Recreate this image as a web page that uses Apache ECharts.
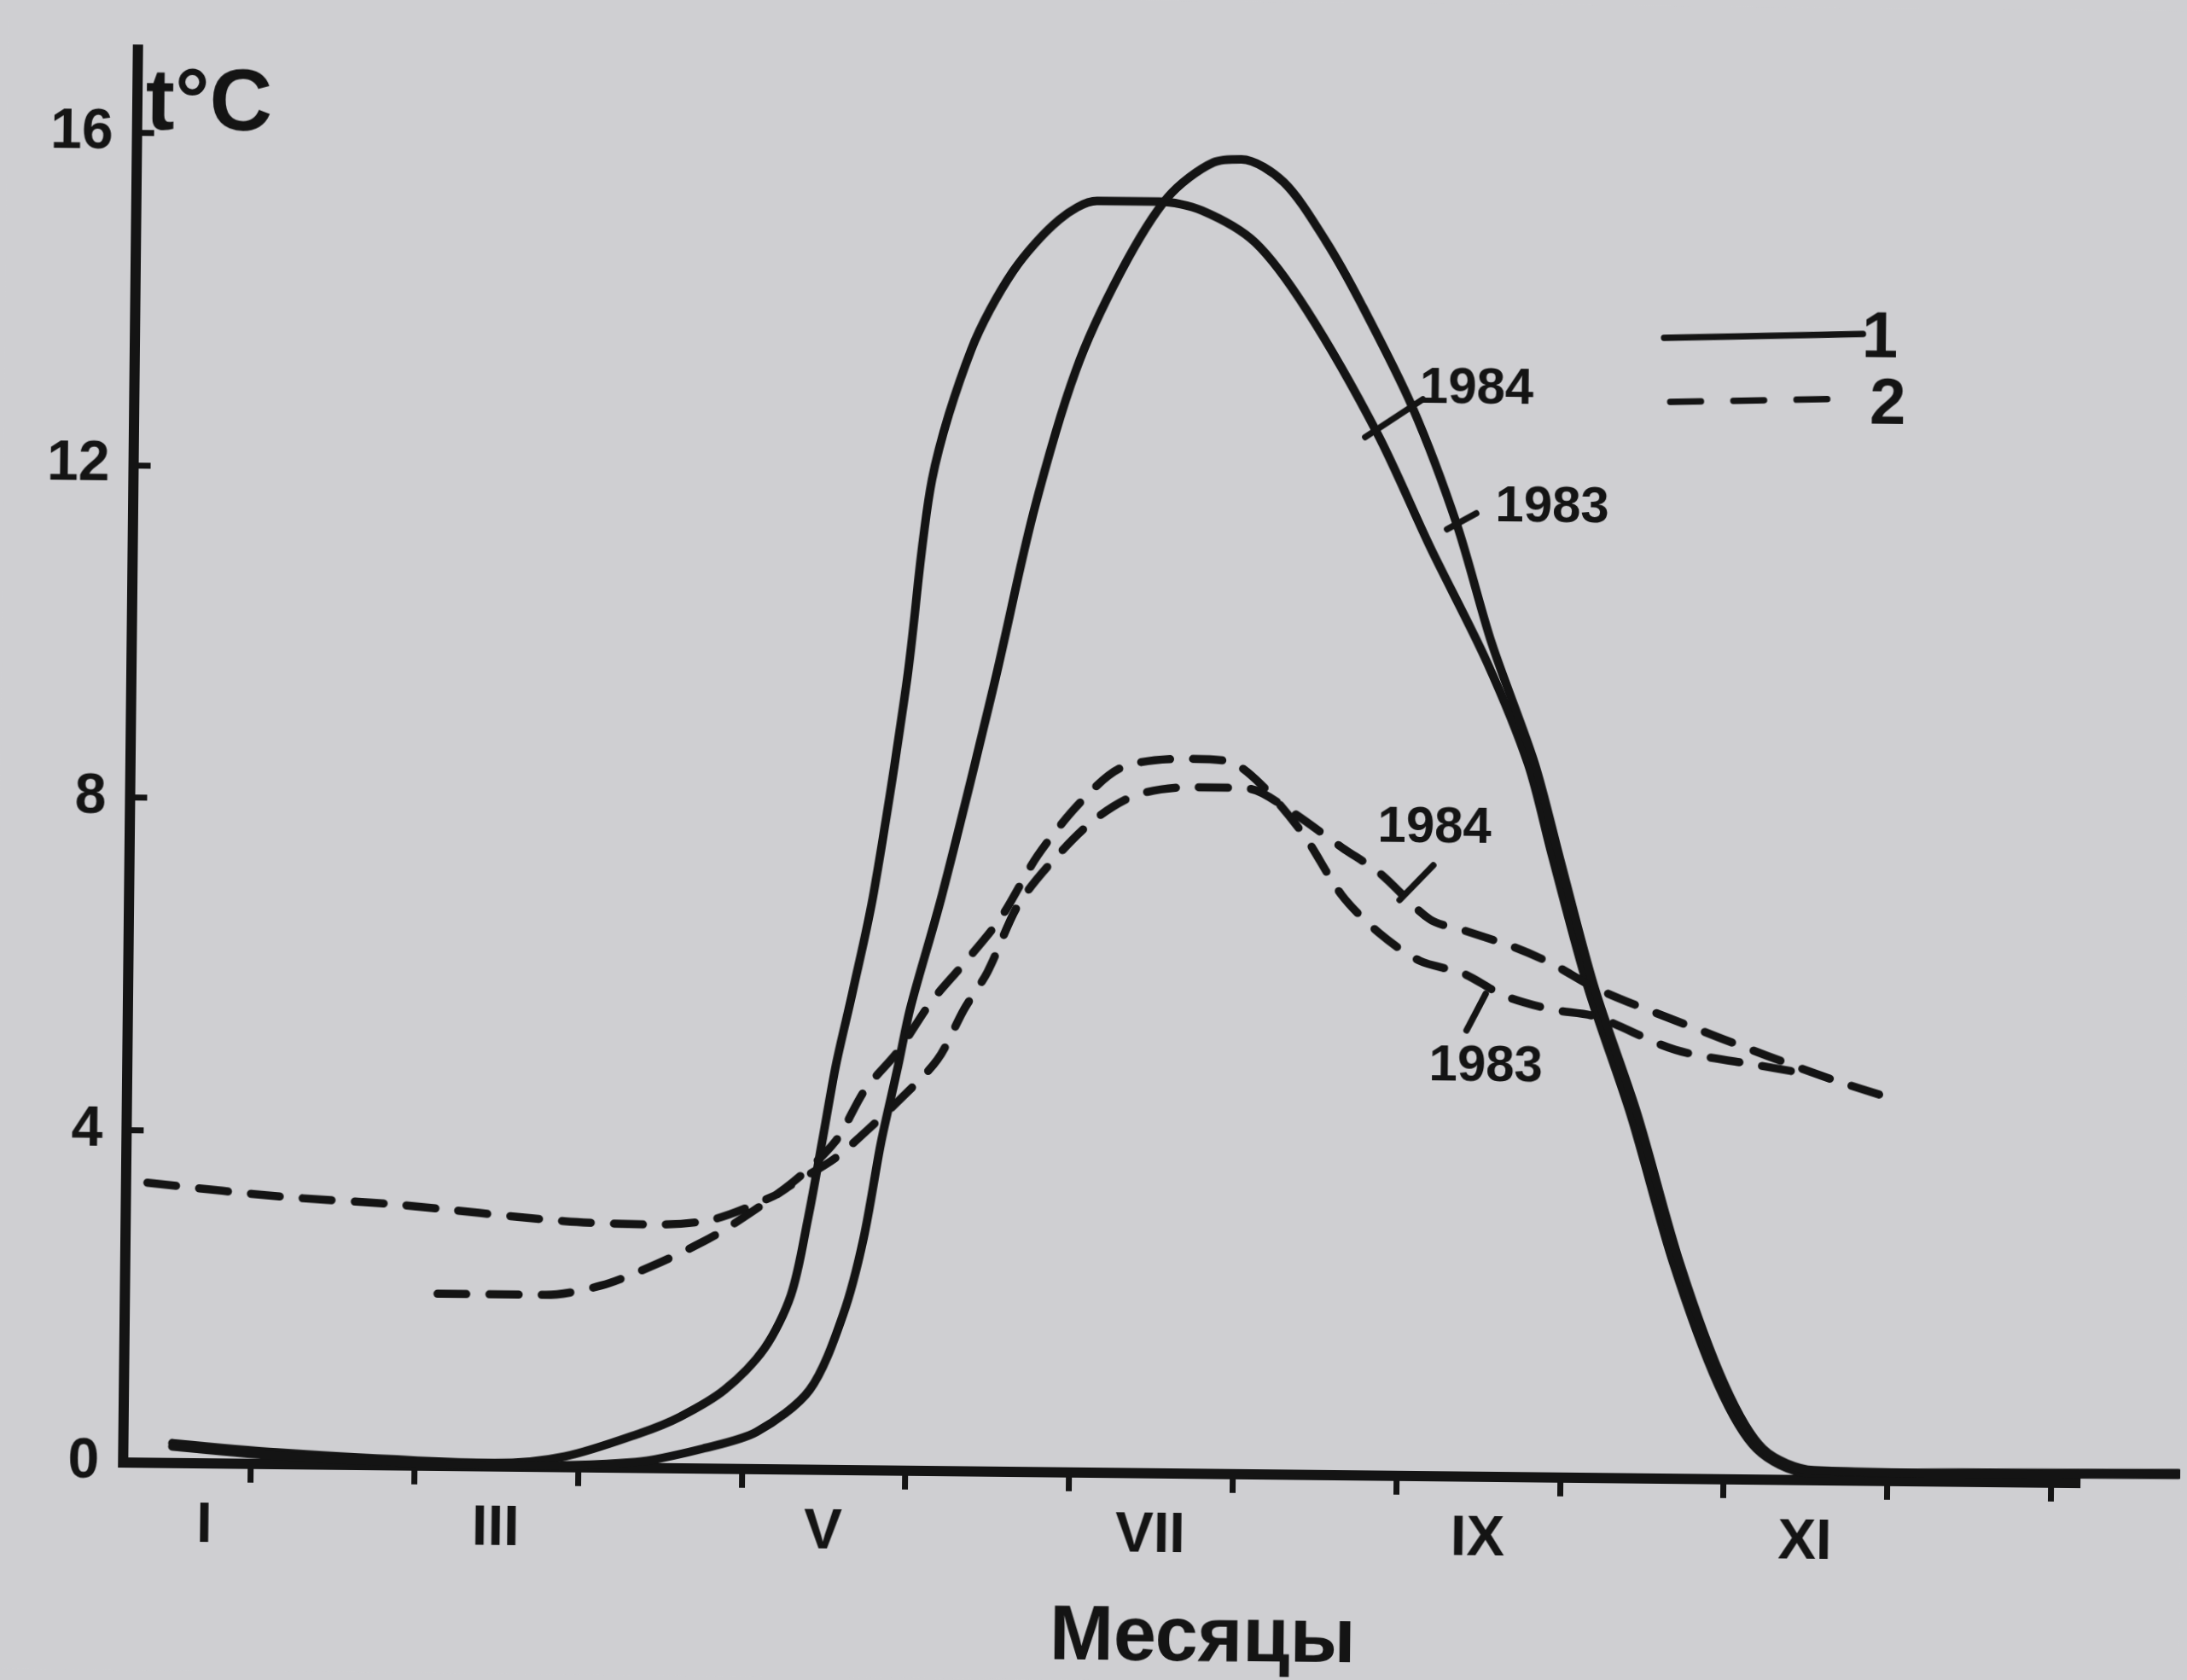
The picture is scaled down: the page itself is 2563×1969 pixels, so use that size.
<!DOCTYPE html>
<html>
<head>
<meta charset="utf-8">
<script src="https://cdn.jsdelivr.net/npm/echarts@6/dist/echarts.min.js"></script>
<style>
  html, body { margin: 0; padding: 0; background: #cfcfd2; overflow: hidden; }
  /* the scanned page is turned a little clockwise */
  #chart { width: 2563px; height: 1969px; transform: rotate(0.6deg); }
</style>
</head>
<body>
<div id="chart"></div>
<script>
// month position (1 = end of January), temperature in °C
const solid1984Month = [0.52, 1.16, 2.02, 2.49, 2.92, 3.38, 3.62, 3.89, 4.13, 4.29, 4.39, 4.47, 4.55, 4.65, 4.77, 4.96, 5.10, 5.33, 5.58, 5.86, 6.09, 6.47, 6.73, 7.06, 7.38, 7.82, 8.15, 8.50, 8.76, 8.91, 9.14, 9.41, 9.68, 9.96, 10.20, 10.51, 11.46, 12.78];
const solid1984Temp = [0.24, 0.14, 0.06, 0.04, 0.13, 0.42, 0.62, 0.95, 1.45, 2.10, 3.03, 3.94, 4.87, 5.78, 6.95, 9.52, 11.93, 13.49, 14.44, 15.07, 15.30, 15.30, 15.20, 14.82, 14.01, 12.53, 11.17, 9.81, 8.58, 7.50, 5.90, 4.37, 2.59, 1.14, 0.37, 0.09, 0.11, 0.13];

const solid1983Month = [0.52, 1.16, 2.02, 2.49, 3.35, 3.78, 4.09, 4.41, 4.61, 4.73, 4.83, 4.93, 5.00, 5.19, 5.50, 5.72, 5.97, 6.24, 6.52, 6.80, 6.97, 7.23, 7.49, 7.71, 8.03, 8.31, 8.53, 8.80, 8.96, 9.18, 9.45, 9.72, 10.00, 10.24, 10.55, 11.46, 12.78];
const solid1983Temp = [0.20, 0.10, 0.03, 0.01, 0.07, 0.25, 0.45, 0.96, 1.87, 2.79, 3.94, 4.87, 5.56, 6.95, 9.54, 11.53, 13.25, 14.45, 15.35, 15.78, 15.82, 15.55, 14.85, 14.10, 12.86, 11.45, 10.03, 8.59, 7.45, 5.90, 4.38, 2.59, 1.14, 0.37, 0.12, 0.10, 0.11];

const dashed1984Month = [0.35, 1.16, 1.86, 2.90, 3.45, 3.81, 4.18, 4.29, 4.55, 4.75, 4.93, 5.17, 5.33, 5.47, 5.65, 5.85, 6.11, 6.37, 6.71, 7.05, 7.30, 7.63, 7.86, 8.17, 8.38, 8.68, 8.92, 9.19, 9.68, 10.24, 10.66, 11.01];
const dashed1984Temp = [3.37, 3.22, 3.14, 2.96, 2.93, 3.00, 3.29, 3.43, 3.75, 4.10, 4.44, 4.95, 5.56, 6.01, 6.81, 7.33, 7.85, 8.16, 8.26, 8.25, 8.00, 7.55, 7.25, 6.70, 6.57, 6.38, 6.18, 5.89, 5.51, 5.10, 4.81, 4.60];

const dashed1983Month = [2.13, 2.79, 3.13, 3.46, 3.75, 3.93, 4.29, 4.55, 4.73, 4.93, 5.13, 5.33, 5.55, 5.77, 6.03, 6.28, 6.67, 6.92, 7.13, 7.39, 7.63, 7.86, 8.11, 8.38, 8.63, 8.92, 9.19, 9.68, 10.20, 10.42];
const dashed1983Temp = [2.07, 2.07, 2.19, 2.45, 2.73, 2.94, 3.45, 3.95, 4.58, 5.05, 5.65, 6.12, 6.67, 7.42, 8.07, 8.49, 8.60, 8.58, 8.30, 7.71, 6.98, 6.53, 6.20, 6.05, 5.79, 5.63, 5.55, 5.16, 4.98, 4.91];

const tickMonths = [1, 2, 3, 4, 5, 6, 7, 8, 9, 10, 11, 12];
const labelMonths = [0.72, 2.5, 4.5, 6.5, 8.5, 10.5];
const monthLabels = ["I", "III", "V", "VII", "IX", "XI"];
const tempTicks = [0, 4, 8, 12, 16];

const ink = "#141414";
const numFont = "'Liberation Sans Narrow', 'Liberation Sans', sans-serif";
const textFont = "'Liberation Sans', sans-serif";

// axis frame: months 0.22 .. 12.15 over the plot width
const plotLeft = 152;
const plotRight = 123;
const monthMin = 0.22;
const monthMax = 12.15;
const pxPerMonth = (2563 - plotLeft - plotRight) / (monthMax - monthMin);
// the curves run on past the end of the axis, to the page edge
const curveMonthMax = monthMin + (2563 - plotLeft) / pxPerMonth;

const toPairs = (xs, ys) => xs.map((x, i) => [x, ys[i]]);

const lineSeries = (name, xs, ys, dashed) => ({
  name: name,
  type: "line",
  xAxisIndex: 1,
  yAxisIndex: 1,
  data: toPairs(xs, ys),
  symbol: "none",
  showSymbol: false,
  smooth: 0.3,
  clip: false,
  silent: true,
  lineStyle: {
    color: ink,
    width: dashed ? 9.5 : 10,
    type: dashed ? [34, 27] : "solid",
    cap: "round",
    join: "round",
  },
});

const label = (text, x, y, size) => ({
  type: "text",
  x: x,
  y: y,
  style: {
    text: text,
    fontFamily: numFont,
    fontWeight: "bold",
    fontSize: size,
    fill: ink,
    align: "center",
    verticalAlign: "middle",
  },
});

const leader = (x1, y1, x2, y2, dash) => ({
  type: "line",
  shape: { x1: x1, y1: y1, x2: x2, y2: y2 },
  style: { stroke: ink, lineWidth: 7.5, lineCap: "round", lineDash: dash || null },
});

const chart = echarts.init(document.getElementById("chart"));
chart.setOption({
  animation: false,
  backgroundColor: "#cfcfd2",
  grid: [
    { left: plotLeft, right: plotRight, top: 70, bottom: 243 },
    { left: plotLeft, right: 0, top: 70, bottom: 243 },
  ],
  xAxis: [
    {
      type: "value",
      gridIndex: 0,
      min: monthMin,
      max: monthMax,
      splitLine: { show: false },
      axisLine: { onZero: false, lineStyle: { color: ink, width: 12, cap: "square" } },
      axisTick: { customValues: tickMonths, length: 22, lineStyle: { color: ink, width: 7 } },
      axisLabel: {
        customValues: labelMonths,
        formatter: (v) => {
          const i = labelMonths.findIndex((m) => Math.abs(m - v) < 1e-6);
          return i < 0 ? "" : monthLabels[i];
        },
        margin: 40,
        color: ink,
        fontFamily: numFont,
        fontWeight: "bold",
        fontSize: 67,
      },
    },
    { type: "value", gridIndex: 1, min: monthMin, max: curveMonthMax, show: false },
  ],
  yAxis: [
    {
      type: "value",
      gridIndex: 0,
      min: 0,
      max: 17,
      splitLine: { show: false },
      axisLine: { show: true, onZero: false, lineStyle: { color: ink, width: 12, cap: "square" } },
      axisTick: {
        show: true,
        inside: true,
        customValues: [4, 8, 12, 16],
        length: 20,
        lineStyle: { color: ink, width: 7 },
      },
      axisLabel: {
        customValues: tempTicks,
        margin: 28,
        color: ink,
        fontFamily: numFont,
        fontWeight: "bold",
        fontSize: 66,
      },
    },
    { type: "value", gridIndex: 1, min: 0, max: 17, show: false },
  ],
  series: [
    lineSeries("1984", solid1984Month, solid1984Temp, false),
    lineSeries("1983", solid1983Month, solid1983Temp, false),
    lineSeries("1984 ", dashed1984Month, dashed1984Temp, true),
    lineSeries("1983 ", dashed1983Month, dashed1983Temp, true),
  ],
  graphic: [
    {
      type: "text",
      x: 236,
      y: 135,
      style: {
        text: "t°C",
        fontFamily: textFont,
        fontWeight: "bold",
        fontSize: 102,
        fill: ink,
        align: "center",
        verticalAlign: "middle",
      },
    },
    {
      type: "text",
      x: 1419,
      y: 1920,
      style: {
        text: "Месяцы",
        fontFamily: textFont,
        fontWeight: "bold",
        fontSize: 90,
        fill: ink,
        align: "center",
        verticalAlign: "middle",
      },
    },
    // legend
    leader(1944, 389, 2177, 382),
    label("1", 2197, 388, 76),
    leader(1952, 464, 2165, 458, [36, 38]),
    label("2", 2207, 466, 76),
    // year marks on the curves
    label("1984", 1725, 451, 60),
    leader(1662, 464, 1595, 509),
    label("1983", 1815, 589, 60),
    leader(1726, 597, 1692, 616),
    label("1984", 1681, 966, 60),
    leader(1680, 1010, 1641, 1051),
    label("1983", 1744, 1245, 60),
    leader(1721, 1203, 1743, 1160),
  ],
});
</script>
</body>
</html>
